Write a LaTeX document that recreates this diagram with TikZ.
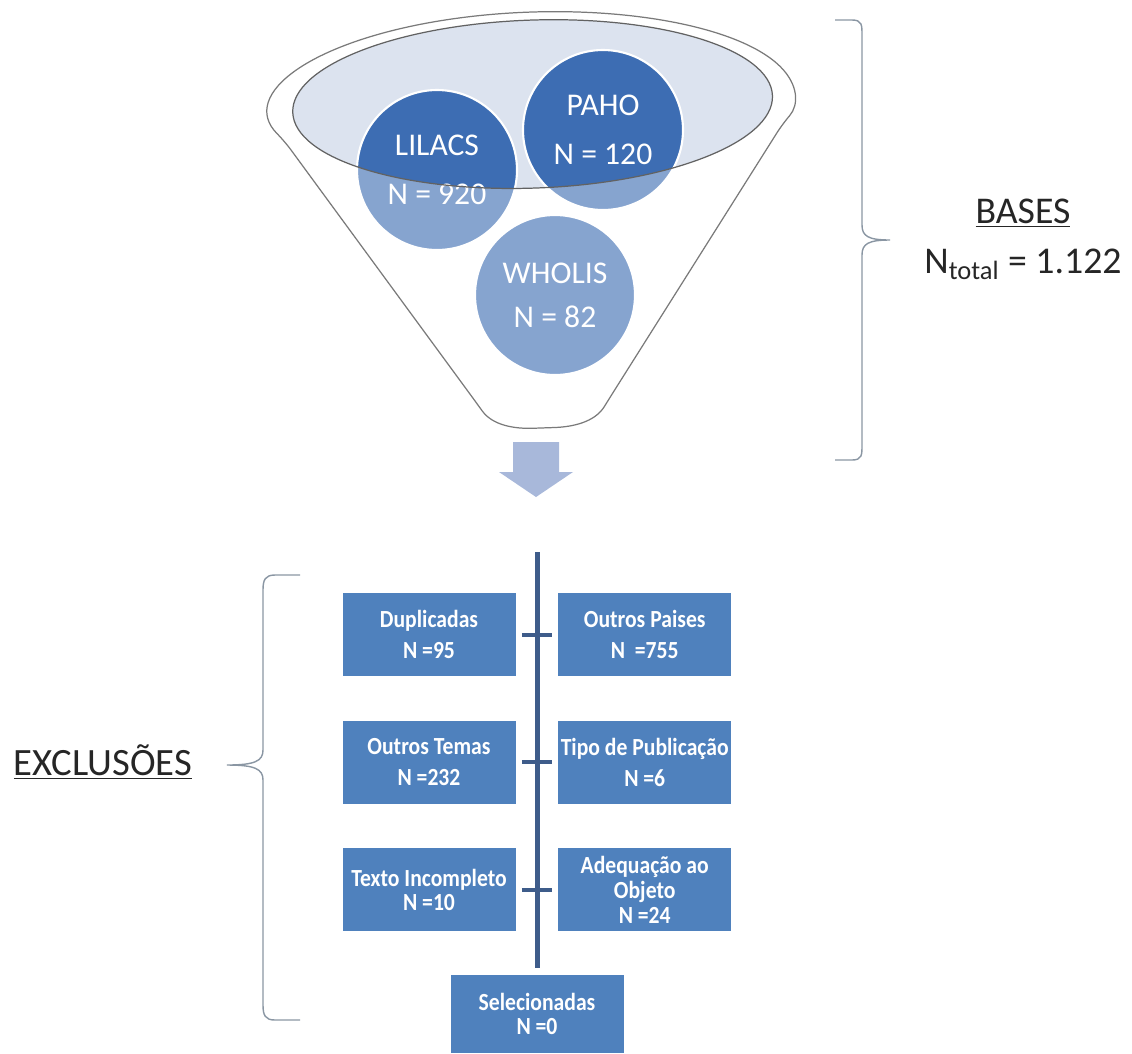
\documentclass[tikz,border=0pt]{standalone}
\usepackage{fontspec}
\setmainfont{Carlito}
\newfontfamily\boxfont[FakeStretch=0.88]{Carlito}
\usetikzlibrary{positioning}
\definecolor{fnblue}{HTML}{3D6DB3}
\definecolor{fnbox}{HTML}{4F81BD}
\definecolor{fnspine}{HTML}{3E5C8A}
\definecolor{fnrim}{HTML}{7A7A7A}
\definecolor{fnbowl}{HTML}{DCE3EF}
\definecolor{fnarrow}{HTML}{A8B8DA}
\definecolor{fnbrace}{HTML}{8A96A3}
\definecolor{fntext}{HTML}{262626}
\tikzset{
  fn/ball/.style={
    circle, fill=fnblue, draw=white, line width=1.2pt, minimum size=32mm,
    inner sep=0pt, text=white, align=center, font=\fontsize{18}{28}\selectfont
  },
  fn/box/.style={
    rectangle, fill=fnbox, minimum width=34.6mm, minimum height=16.6mm,
    inner sep=1pt, text=white, align=center,
    font=\boxfont\bfseries\fontsize{14}{14}\selectfont
  },
  fn/label/.style={text=fntext, font=\fontsize{21.5}{26}\selectfont},
  fn/spine/.style={fnspine, line width=1mm},
  fn/tick/.style={fnspine, line width=0.8mm, shorten <=1.2mm, shorten >=1.2mm},
  fn/brace/.style={fnbrace, line width=0.8pt}
}
\begin{document}
\begin{tikzpicture}[x=0.2mm, y=-0.2mm]
  \useasboundingbox (0,0) rectangle (1132,1053);

  % --- funil: fundo da boca ---
  \begin{scope}[rotate around={2:(537,230)}]
    \fill[fnbowl] (537,104) ellipse [x radius=240, y radius=84];
  \end{scope}

  % --- bases ---
  \node[fn/ball] (lilacs) at (437,170) {LILACS\\N = 920};
  \node[fn/ball] (paho) at (603,130) {PAHO\\N = 120};
  \node[fn/ball, font=\fontsize{18}{25}\selectfont] (wholis) at (555,295) {WHOLIS\\N = 82};

  % --- funil: corpo e contornos ---
  \begin{scope}[rotate around={2:(537,230)}]
    \fill[white, fill opacity=0.38, even odd rule]
      (537,104) ++(162:262 and 92) arc [start angle=162, end angle=378, x radius=262, y radius=92]
      -- (604,400) .. controls (588,424) and (566,428) .. (537,428)
      .. controls (508,428) and (486,424) .. (470,400) -- cycle
      (537,104) ellipse [x radius=240, y radius=84];
    \draw[fnrim, line width=0.7pt, rounded corners=6pt]
      (537,104) ++(162:262 and 92) arc [start angle=162, end angle=378, x radius=262, y radius=92]
      -- (604,400) .. controls (588,424) and (566,428) .. (537,428)
      .. controls (508,428) and (486,424) .. (470,400) -- cycle;
    \draw[fnrim!80!black, line width=0.7pt] (537,104) ellipse [x radius=240, y radius=84];
  \end{scope}

  % --- chave das bases ---
  \draw[fn/brace] (835,20) -- (852,20) .. controls (862,20) and (862,25) .. (862,35)
    -- (862,225) .. controls (862,236) and (868,240) .. (890,240)
    .. controls (868,240) and (862,244) .. (862,255)
    -- (862,445) .. controls (862,455) and (862,460) .. (852,460) -- (835,460);
  \node[fn/label] (bases) at (1023,213) {\underline{BASES}};
  \node[fn/label] (ntotal) at (1023,264) {N\textsubscript{total} = 1.122};

  % --- seta ---
  \fill[fnarrow] (513,442) -- (559,442) -- (559,472) -- (573,472) -- (536,497)
    -- (499,472) -- (513,472) -- cycle;

  % --- exclusoes ---
  \coordinate (spine) at (537,552);
  \node[fn/box] (dup) at (429,634.5) {Duplicadas\\[3.6pt]N =95};
  \node[fn/box, right=8.4mm of dup] (pais) {Outros Paises\\[3.6pt]N \ =755};
  \node[fn/box, below=8.8mm of dup] (temas) {Outros Temas\\[3.6pt]N =232};
  \node[fn/box, below=8.8mm of pais] (tipo) {Tipo de Publicação\\[3.6pt]N =6};
  \node[fn/box, below=8.8mm of temas] (texto) {Texto Incompleto\\N =10};
  \node[fn/box, below=8.8mm of tipo] (adeq) {Adequação ao\\Objeto\\N =24};
  \node[fn/box, minimum height=15.6mm] (sel) at (537,1014) {Selecionadas\\N =0};

  \draw[fn/spine, shorten >=1.4mm] (spine) -- (sel.north);
  \draw[fn/tick] (dup) -- (pais);
  \draw[fn/tick] (temas) -- (tipo);
  \draw[fn/tick] (texto) -- (adeq);

  % --- chave das exclusoes ---
  \draw[fn/brace] (300,575) -- (275,575) .. controls (265,575) and (263,580) .. (263,590)
    -- (263,750) .. controls (263,761) and (255,765) .. (227,765)
    .. controls (255,765) and (263,769) .. (263,780)
    -- (263,1005) .. controls (263,1015) and (265,1020) .. (275,1020) -- (300,1020);
  \node[fn/label, font=\fontsize{22}{26}\selectfont] (excl) at (103,762) {\underline{EXCLUSÕES}};
\end{tikzpicture}
\end{document}
